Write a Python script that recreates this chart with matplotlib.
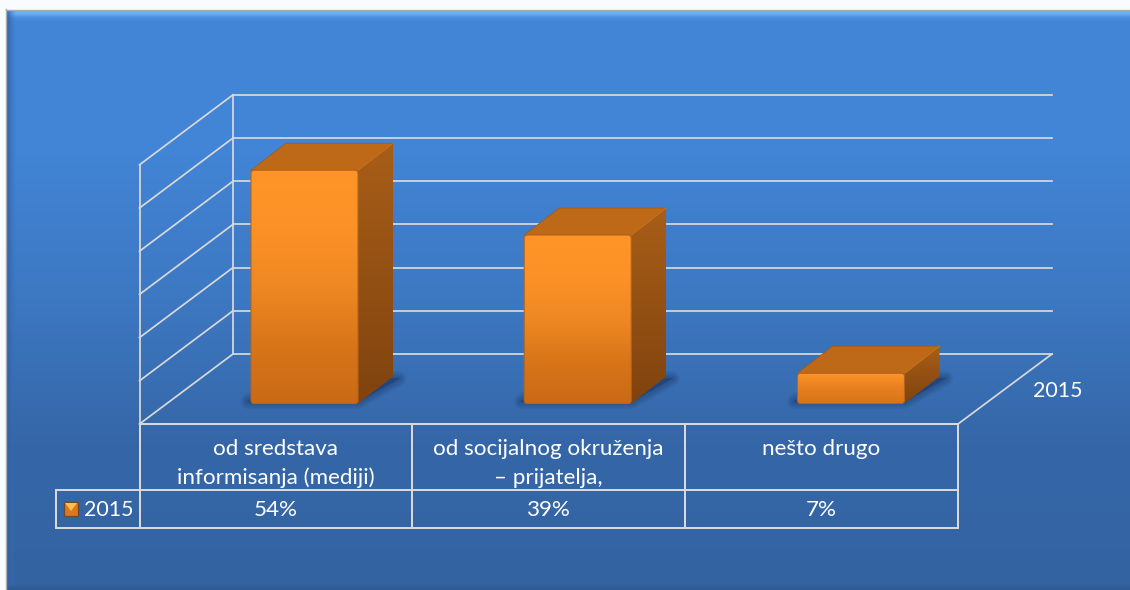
import numpy as np
import matplotlib
matplotlib.use("Agg")
import matplotlib.pyplot as plt
from matplotlib.colors import LinearSegmentedColormap as LSC
from matplotlib.patches import Polygon, FancyBboxPatch, Rectangle

categories = ["od sredstava\ninformisanja (mediji)", "od socijalnog okruženja\n– prijatelja,", "nešto drugo"]
values = [54, 39, 7]
value_labels = ["54%", "39%", "7%"]
series_name = "2015"
grid_ticks = [0, 10, 20, 30, 40, 50, 60]

W, H = 1130, 590
plt.rcParams['font.family'] = ['Lato', 'DejaVu Sans']
fig = plt.figure(figsize=(W / 100, H / 100), dpi=100, facecolor="#f8fcff")

# chrome axes in pixel coordinates
px = fig.add_axes([0, 0, 1, 1], facecolor="none")
px.set_xlim(0, W); px.set_ylim(H, 0); px.axis("off")

def grad(ax, colors, extent, clip=None, horizontal=False, z=1, **kw):
    g = np.linspace(0, 1, 256)
    g = g[None, :] if horizontal else g[:, None]
    im = ax.imshow(g, cmap=LSC.from_list("g", colors), extent=extent, aspect="auto",
                   origin="upper", zorder=z, interpolation="bilinear", **kw)
    if clip is not None:
        im.set_clip_path(clip)
    return im

# panel background
grad(px, ["#4386d8", "#4284d5", "#3d78c2", "#3567a8", "#3463a2"], (6, W, 586, 10), z=0)
# bevels
grad(px, ["#66aef8", "#6cb0f6", "#4c90e0", "#4386d8"], (6, W, 21, 10), z=0.5)
grad(px, ["#2f5f9f", "#3a72bb00"], (6, 16, 586, 10), horizontal=True, z=0.6)
grad(px, ["#34629f", "#2f5a94"], (6, W, 590, 584), z=0.5)
px.plot([6, 6], [590, 9], color="#a8adb3", lw=1.0, zorder=0.7)
px.plot([6, W], [9.5, 9.5], color="#a8adb3", lw=1.0, zorder=0.7)

GC = "#d9d9d9"
LW = 1.25
K = 4.32            # pixels per percentage point on the walls
fl, fr, bl, br = 139.5, 958, 233, 1052
front_y, back_y = 424, 354

# walls and floor
for t in grid_ticks:
    yb = back_y - t * K
    yf = front_y - t * K
    px.plot([bl, br], [yb, yb], color=GC, lw=LW, zorder=2, solid_capstyle="projecting")
    px.plot([fl, bl], [yf, yb], color=GC, lw=LW, zorder=2)
px.plot([fl, fl], [front_y, front_y - 60 * K], color=GC, lw=LW, zorder=2)
px.plot([bl, bl], [back_y, back_y - 60 * K], color=GC, lw=LW, zorder=2)
px.plot([fr, br], [front_y, back_y], color=GC, lw=LW, zorder=2)

# data table
r0, r1, r2 = 424, 490, 528
col_x = [139.5, 412, 685, 958]
px.plot([col_x[0], col_x[-1]], [r0, r0], color=GC, lw=1.45, zorder=2)
px.plot([56, col_x[-1]], [r1, r1], color=GC, lw=1.45, zorder=2)
px.plot([56, col_x[-1]], [r2, r2], color=GC, lw=1.45, zorder=2)
for x in col_x:
    px.plot([x, x], [r0, r2], color=GC, lw=1.45, zorder=2)
px.plot([56, 56], [r1, r2], color=GC, lw=1.45, zorder=2)

FS = 16.1
FSD = 15.4
for i, (c, v) in enumerate(zip(categories, value_labels)):
    xc = (col_x[i] + col_x[i + 1]) / 2
    for j, line in enumerate(c.split("\n")):
        px.text(xc, 449 + 29 * j, line, color="white", fontsize=FS, ha="center", va="center", zorder=5)
    px.text(xc, 510, v, color="white", fontsize=FS, ha="center", va="center", zorder=5)
px.text(84, 510, series_name, color="white", fontsize=FSD, ha="left", va="center", zorder=5)
px.text(1033, 391, series_name, color="white", fontsize=FSD, ha="left", va="center", zorder=5)

# legend key
px.add_patch(Rectangle((64, 502), 14, 14, fc="#d9791c", ec="#6b4a2a", lw=0.9, zorder=5))
px.add_patch(Polygon([(65, 503), (77, 503), (71, 511)], fc="#ffbf4d", ec="none", zorder=6))

# value axes: x in category index, y in percent, on the bars' front plane
STEP = 273.25
X0, Y0 = 304.5, 403.5
val = fig.add_axes([0, 0, 1, 1], facecolor="none")
xlim = ((0 - X0) / STEP, (W - X0) / STEP)
ylim = ((Y0 - H) / K, Y0 / K)
val.set_xlim(*xlim); val.set_ylim(*ylim); val.axis("off")

BW = 107 / STEP
DX, DY = 35 / STEP, 27 / K
ASPECT = STEP / K

def shadow(x0, x1):
    pts = [(x0 - 3 / STEP, 2 / K), (x1, 2 / K),
           (x1 + DX + 6 / STEP, DY - 2 / K), (x0 + DX, DY - 2 / K)]
    for lw in [11, 9.5, 8, 6.5, 5, 3.5, 2, 1]:
        val.add_patch(Polygon(pts, fc=(0.07, 0.15, 0.3, 0.035), ec=(0.07, 0.15, 0.3, 0.05),
                              lw=lw, joinstyle="round", zorder=3))

for i, v in enumerate(values):
    x0, x1 = i - BW / 2, i + BW / 2
    shadow(x0, x1)
    # side face
    side = Polygon([(x1, 0), (x1 + DX, DY), (x1 + DX, v + DY), (x1, v)], closed=True,
                   transform=val.transData, fc="none", ec="none")
    val.add_patch(side)
    grad(val, ["#a85e18", "#80430f"], (x1, x1 + DX, 0, v + DY), clip=side, z=4)
    # top face
    top = Polygon([(x0, v), (x1, v), (x1 + DX, v + DY), (x0 + DX, v + DY)], closed=True,
                  transform=val.transData, fc="#bd6918", ec="#a55c16", lw=0.6, zorder=4.1)
    val.add_patch(top)
    val.plot([x1, x1 + DX], [v, v + DY], color="#c46e1b", lw=1.0, zorder=4.2, solid_capstyle="round")
    # front face
    box = FancyBboxPatch((x0, 0), BW, v, boxstyle=f"round,pad=0,rounding_size={3 / STEP}",
                         mutation_aspect=ASPECT, transform=val.transData,
                         fc="none", ec="none")
    val.add_patch(box)
    colors = ["#ff9428", "#fc9127", "#ee8823", "#d87519", "#c96a17"] if v > 20 else ["#ff9428", "#e67f1f", "#d87318"]
    grad(val, colors, (x0, x1, 0, v), clip=box, z=5)
    edge = FancyBboxPatch((x0, 0), BW, v, boxstyle=f"round,pad=0,rounding_size={3 / STEP}",
                          mutation_aspect=ASPECT, transform=val.transData,
                          fc="none", ec="#b5651a", lw=0.8, zorder=5.1)
    val.add_patch(edge)

val.set_xlim(*xlim); val.set_ylim(*ylim)
px.set_xlim(0, W); px.set_ylim(H, 0)
fig.savefig("out.png", dpi=100, facecolor=fig.get_facecolor())
